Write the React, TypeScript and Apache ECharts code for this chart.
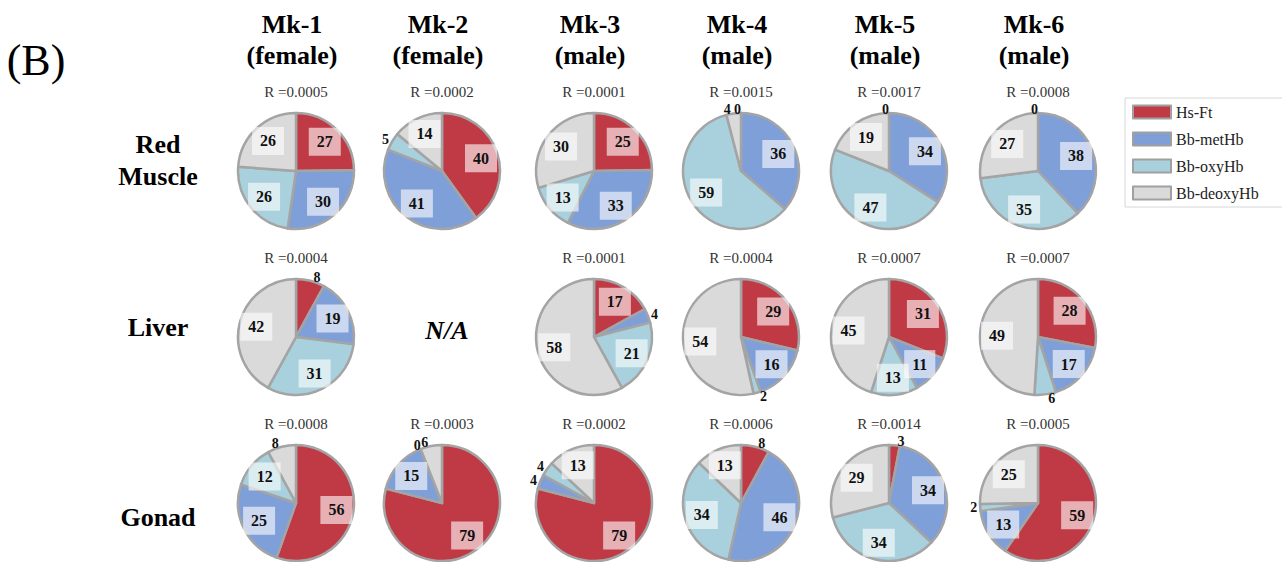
import React, { useEffect, useRef } from 'react';
import * as echarts from 'echarts';

// Haemoglobin / ferritin composition (%) of each tissue sample
const components = ['Hs-Ft', 'Bb-metHb', 'Bb-oxyHb', 'Bb-deoxyHb'];
const componentColors = ['#c03a46', '#7f9fd8', '#a9d1dd', '#dadada'];

const animals = ['Mk-1', 'Mk-2', 'Mk-3', 'Mk-4', 'Mk-5', 'Mk-6'];
const sexes = ['(female)', '(female)', '(male)', '(male)', '(male)', '(male)'];
const tissues = [['Red', 'Muscle'], ['Liver'], ['Gonad']];

// values per animal, ordered as in `components`; null = sample not available
const redMuscle = [
  [27, 30, 26, 26],
  [40, 41, 5, 14],
  [25, 33, 13, 30],
  [0, 36, 59, 4],
  [0, 34, 47, 19],
  [0, 38, 35, 27],
];
const liver = [
  [8, 19, 31, 42],
  null,
  [17, 4, 21, 58],
  [29, 16, 2, 54],
  [31, 11, 13, 45],
  [28, 17, 6, 49],
];
const gonad = [
  [56, 25, 12, 8],
  [79, 15, 0, 6],
  [79, 4, 4, 13],
  [8, 46, 34, 13],
  [3, 34, 34, 29],
  [59, 13, 2, 25],
];

// fit residuals
const redMuscleR = ['0.0005', '0.0002', '0.0001', '0.0015', '0.0017', '0.0008'];
const liverR = ['0.0004', null, '0.0001', '0.0004', '0.0007', '0.0007'];
const gonadR = ['0.0008', '0.0003', '0.0002', '0.0006', '0.0014', '0.0005'];

const tissueData = [redMuscle, liver, gonad];
const tissueR = [redMuscleR, liverR, gonadR];

// layout
const colX = [296, 442, 594, 741, 889, 1038];
const rowY = [171, 337, 503];
const pieR = 58;
const SERIF = "'Liberation Serif', serif";

const textStyle = (text: string, size: number, extra: any = {}) => ({
  text,
  fontFamily: SERIF,
  fontSize: size,
  fill: '#000',
  align: 'center',
  verticalAlign: 'middle',
  ...extra,
});

export default function App() {
  const ref = useRef<HTMLDivElement>(null);

  useEffect(() => {
    if (!ref.current) return;
    const chart = echarts.init(ref.current, undefined, { renderer: 'svg' });

    const baseSeries: any[] = [];
    const labelSeries: any[] = [];
    const graphics: any[] = [];

    tissueData.forEach((rows, ri) => {
      rows.forEach((vals, ci) => {
        const cx = colX[ci];
        const cy = rowY[ri];
        if (!vals) {
          graphics.push({
            type: 'text',
            x: cx + 5,
            y: cy - 7,
            style: textStyle('N/A', 26, { fontWeight: 'bold', fontStyle: 'italic' }),
          });
          return;
        }
        baseSeries.push({
          type: 'pie',
          center: [cx, cy],
          radius: pieR,
          startAngle: 90,
          clockwise: true,
          silent: true,
          avoidLabelOverlap: false,
          label: { show: false },
          labelLine: { show: false },
          itemStyle: { borderColor: '#a4a4a4', borderWidth: 2.5 },
          data: vals.map((v, k) => ({
            name: components[k],
            value: v,
            itemStyle: { color: componentColors[k] },
          })),
        });
        // transparent ring carrying the value labels
        labelSeries.push({
          type: 'pie',
          center: [cx, cy],
          radius: [18, pieR],
          startAngle: 90,
          clockwise: true,
          silent: true,
          avoidLabelOverlap: false,
          // move labels that sit outside the rim a little further away vertically
          labelLayout: (p: any) => {
            const lr = p.labelRect;
            const lx = lr.x + lr.width / 2;
            const ly = lr.y + lr.height / 2;
            const d = Math.hypot(lx - cx, ly - cy);
            if (d < pieR - 4) return { hideOverlap: false };
            return { hideOverlap: false, dy: (4 * (ly - cy)) / d };
          },
          itemStyle: { color: 'transparent', borderWidth: 0 },
          labelLine: { show: false, length: 0, length2: 0 },
          data: vals.map((v, k) => {
            const small = v < 10;
            return {
              name: components[k],
              value: v,
              label: small
                ? {
                    show: true,
                    position: 'outside',
                    distanceToLabelLine: v === 0 ? 0 : 3,
                    formatter: String(v),
                    fontFamily: SERIF,
                    fontWeight: 'bold',
                    fontSize: 14,
                    color: '#111',
                  }
                : {
                    show: true,
                    position: 'inside',
                    formatter: String(v),
                    fontFamily: SERIF,
                    fontWeight: 'bold',
                    fontSize: 16,
                    color: '#111',
                    backgroundColor: 'rgba(255,255,255,0.6)',
                    padding: [7, 8, 5, 8],
                  },
            };
          }),
        });
        const r = tissueR[ri][ci];
        if (r) {
          graphics.push({
            type: 'text',
            x: cx,
            y: cy - 79,
            style: textStyle(`R =${r}`, 15, { fill: '#333' }),
          });
        }
      });
    });

    // column headers
    animals.forEach((a, i) => {
      graphics.push({
        type: 'text',
        x: colX[i] - 4,
        y: 24,
        style: textStyle(a, 26, { fontWeight: 'bold' }),
      });
      graphics.push({
        type: 'text',
        x: colX[i] - 4,
        y: 55,
        style: textStyle(sexes[i], 26, { fontWeight: 'bold' }),
      });
    });

    // row labels
    const rowLabelY = [[144, 176], [327], [517]];
    tissues.forEach((lines, i) => {
      lines.forEach((t, j) => {
        graphics.push({
          type: 'text',
          x: 158,
          y: rowLabelY[i][j],
          style: textStyle(t, 26, { fontWeight: 'bold' }),
        });
      });
    });

    graphics.push({
      type: 'text',
      x: 36,
      y: 60,
      style: textStyle('(B)', 44),
    });

    chart.setOption({
      animation: false,
      backgroundColor: '#fff',
      legend: {
        orient: 'vertical',
        left: 1125,
        top: 98,
        data: components,
        icon: 'rect',
        itemWidth: 38,
        itemHeight: 13,
        itemGap: 11,
        selectedMode: false,
        backgroundColor: '#fff',
        borderColor: '#d6d6d6',
        borderWidth: 1,
        padding: [6, 40, 6, 7],
        itemStyle: { borderColor: '#a0a0a0', borderWidth: 2 },
        textStyle: { fontFamily: SERIF, fontSize: 16, color: '#222', lineHeight: 16 },
      },
      series: [...baseSeries, ...labelSeries],
      graphic: graphics,
    });

    return () => chart.dispose();
  }, []);

  return (
    <div
      ref={ref}
      style={{ position: 'fixed', left: 0, top: 0, width: 1282, height: 562, background: '#fff' }}
    />
  );
}
